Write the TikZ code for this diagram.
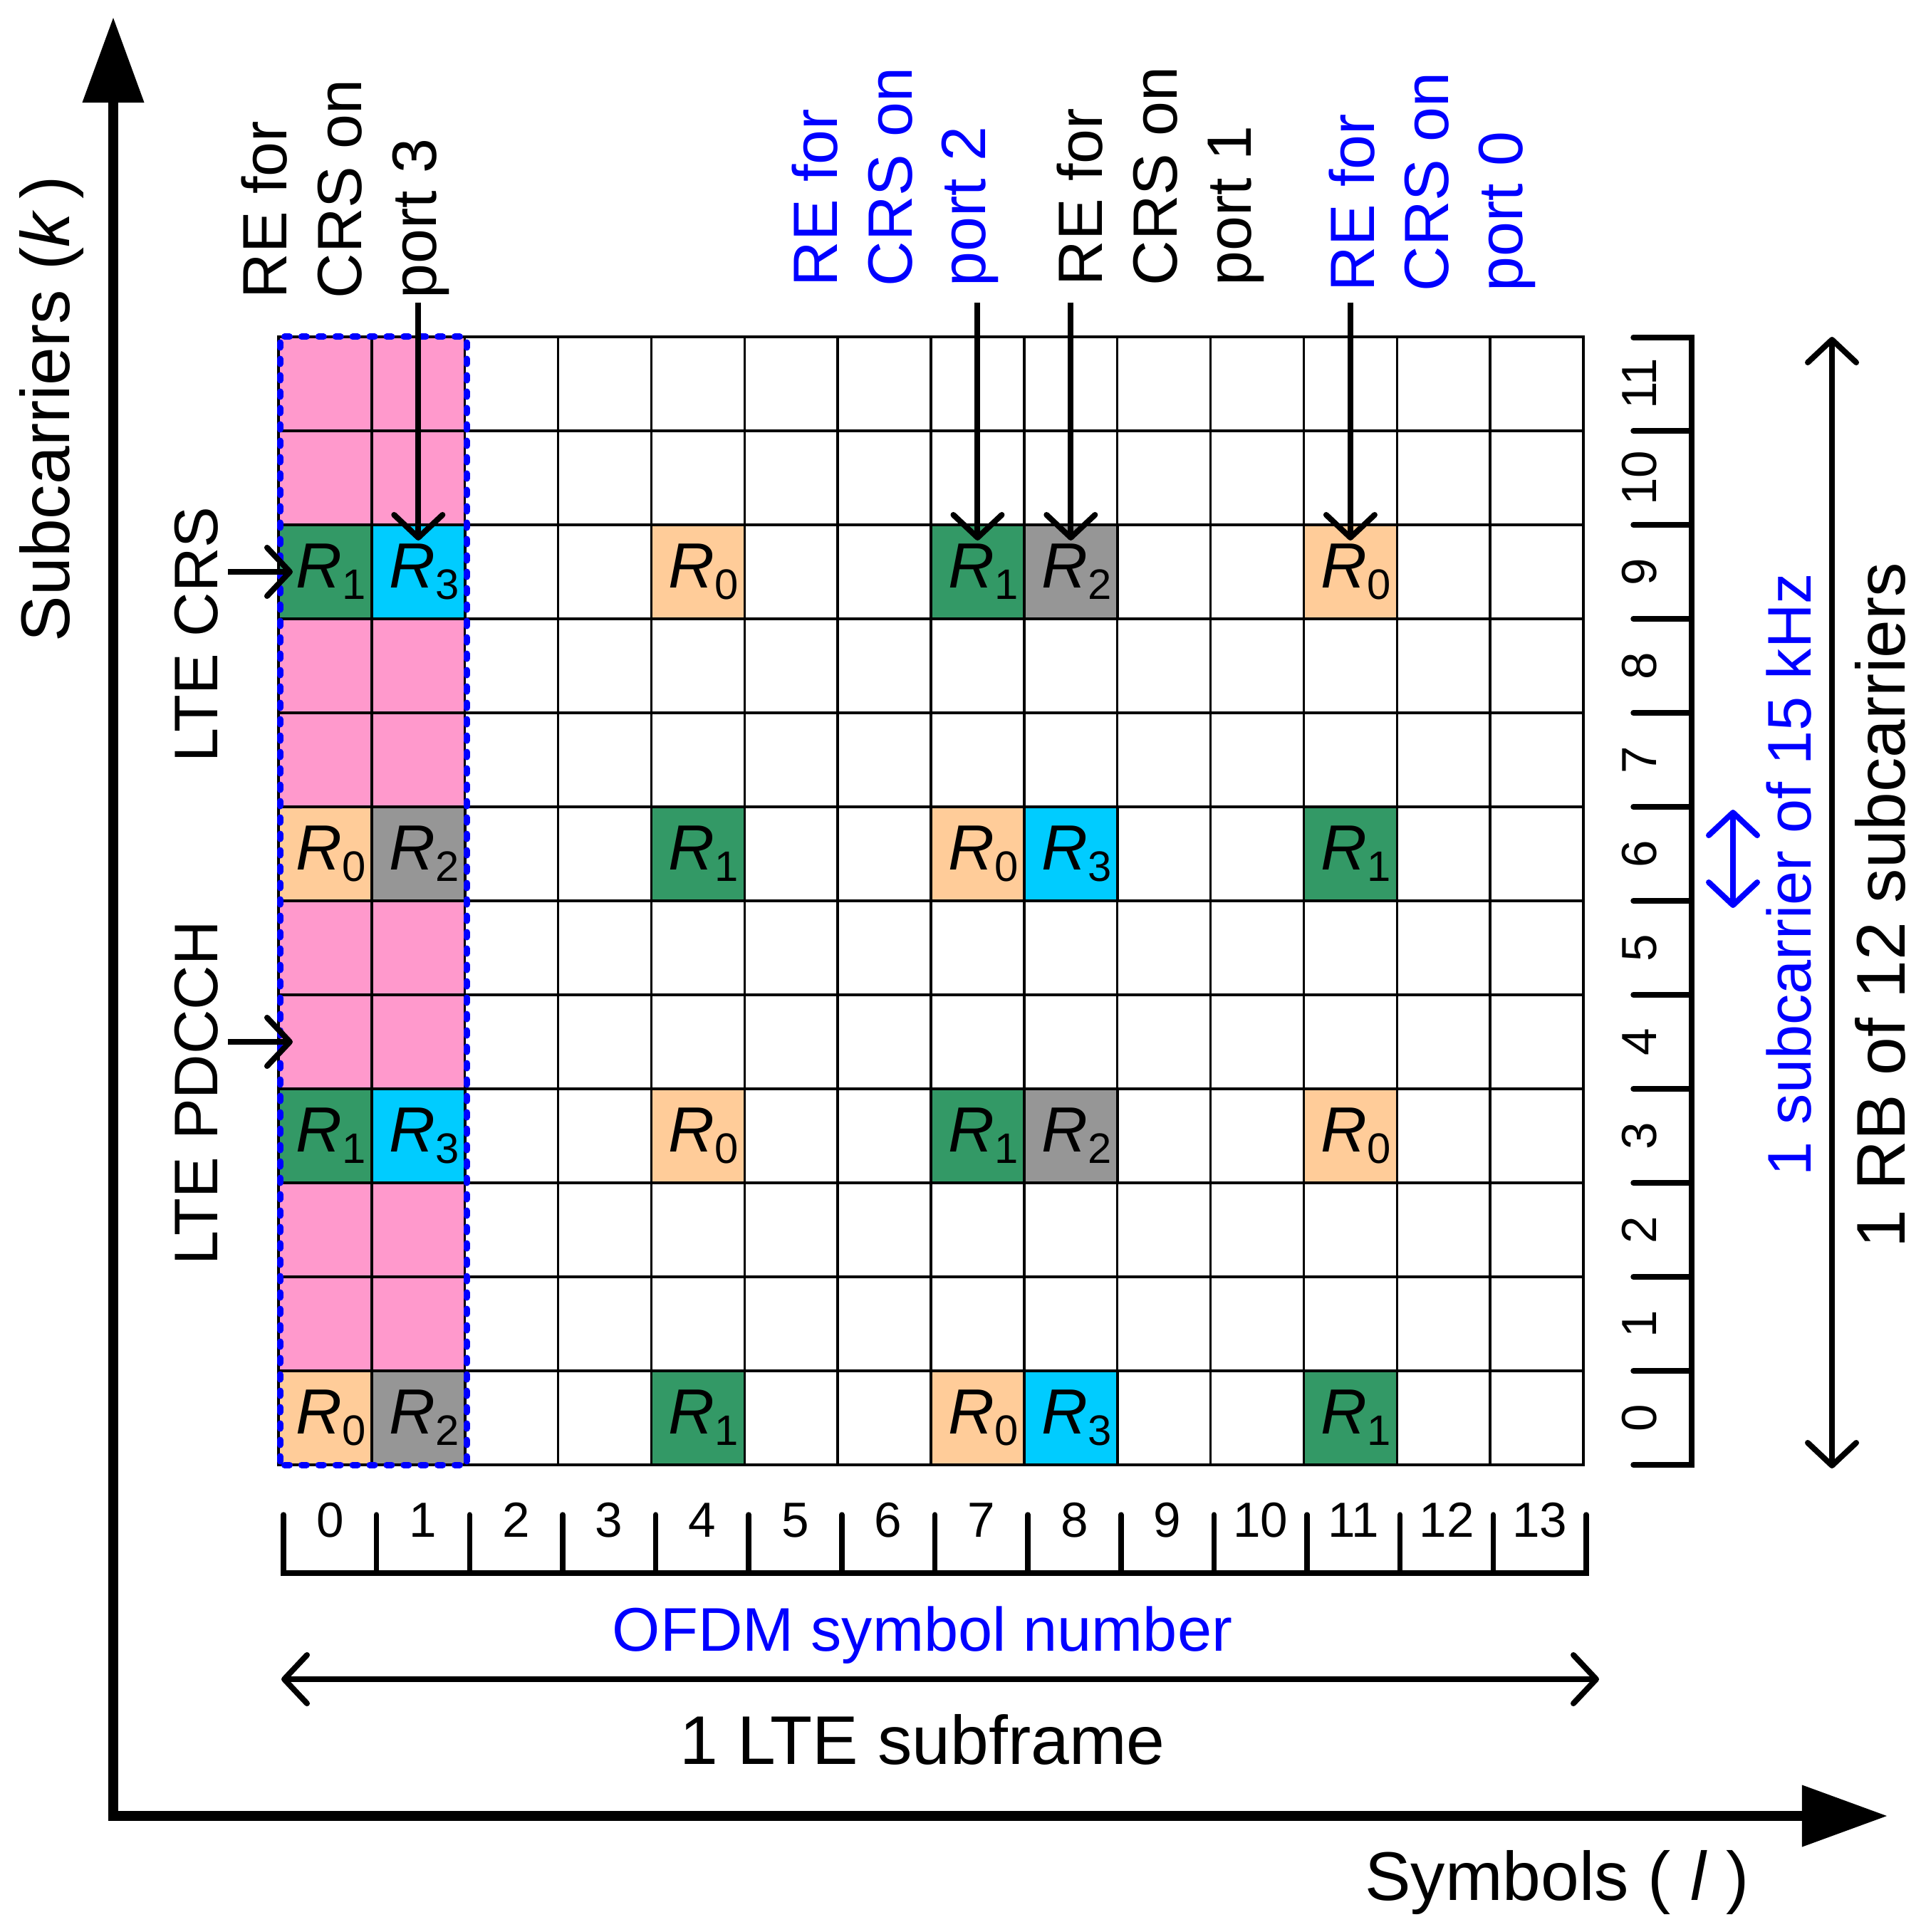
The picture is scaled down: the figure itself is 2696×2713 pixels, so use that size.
\documentclass[tikz,border=0pt]{standalone}
\usepackage{fontspec}
\setmainfont{Liberation Sans}
\usetikzlibrary{arrows.meta}
\definecolor{cpink}{HTML}{FF99CC}
\definecolor{cgreen}{HTML}{339966}
\definecolor{ccyan}{HTML}{00CCFF}
\definecolor{cgray}{HTML}{969696}
\definecolor{cpeach}{HTML}{FFCC99}
\newcommand\rlab[1]{\hspace*{0.16cm}\textit{R}\raisebox{-4.5pt}{\fontsize{17}{17}\selectfont #1}}
\newcommand\rcell[4]{\node[cell, fill=#3] (g-#1-#2) at ({391+130.86*(#1+0.5)},{2057-132*(#2+0.5)}) {\rlab{#4}};}
\begin{document}
\begin{tikzpicture}[x=0.01cm,y=-0.01cm,
  cell/.style={draw=black, line width=0.035cm, minimum width=1.3086cm, minimum height=1.32cm, inner sep=0, outer sep=0, font=\fontsize{25.5}{30}\selectfont},
  big/.style={font=\fontsize{27.5}{33}\selectfont, inner sep=0},
  mid/.style={font=\fontsize{24.6}{29}\selectfont, inner sep=0},
  lab/.style={font=\fontsize{25}{30}\selectfont, inner sep=0, rotate=90, anchor=base west},
  num/.style={font=\fontsize{19.7}{24}\selectfont, inner sep=0, anchor=base},
  axis/.style={line width=0.14cm, {Triangle[length=1.2cm,width=0.83cm]}-{Triangle[length=1.2cm,width=0.83cm]}},
  parr/.style={line width=0.08cm, -{Straight Barb[length=0.32cm,width=0.68cm,round]}},
  darr/.style={line width=0.08cm, {Straight Barb[length=0.32cm,width=0.68cm,round]}-{Straight Barb[length=0.32cm,width=0.68cm,round]}},
  ruler/.style={line width=0.075cm, line cap=round},
  bluedot/.style={draw=blue, line width=0.09cm, line cap=round}
]
\useasboundingbox[fill=white] (0,0) rectangle (2696,2713);

% base grid
\foreach \c in {0,...,13}{
  \foreach \r in {0,...,11}{
    \ifnum\c<2 \def\cf{cpink}\else\def\cf{white}\fi
    \node[cell, fill=\cf] (g-\c-\r) at ({391+130.86*(\c+0.5)},{2057-132*(\r+0.5)}) {};
  }
}
% reference signal cells
\foreach \r in {0,6}{
  \rcell{0}{\r}{cpeach}{0}
  \rcell{1}{\r}{cgray}{2}
  \rcell{4}{\r}{cgreen}{1}
  \rcell{7}{\r}{cpeach}{0}
  \rcell{8}{\r}{ccyan}{3}
  \rcell{11}{\r}{cgreen}{1}
}
\foreach \r in {3,9}{
  \rcell{0}{\r}{cgreen}{1}
  \rcell{1}{\r}{ccyan}{3}
  \rcell{4}{\r}{cpeach}{0}
  \rcell{7}{\r}{cgreen}{1}
  \rcell{8}{\r}{cgray}{2}
  \rcell{11}{\r}{cpeach}{0}
}
% PDCCH region outline (blue dashed)
\foreach \t in {0,...,68}{
  \draw[bluedot] (393,{473+11.5+23*\t-3.5}) -- (393,{473+11.5+23*\t+3.5});
  \draw[bluedot] (655,{473+11.5+23*\t-3.5}) -- (655,{473+11.5+23*\t+3.5});
}
\foreach \t in {0,...,10}{
  \draw[bluedot] ({391+12+23.9*\t-3.5},473) -- ({391+12+23.9*\t+3.5},473);
  \draw[bluedot] ({391+12+23.9*\t-3.5},2057) -- ({391+12+23.9*\t+3.5},2057);
}

% axes
\coordinate (ytip) at (159,24);
\coordinate (orig) at (159,2550);
\coordinate (xtip) at (2650,2550);
\draw[axis] (ytip) -- (orig) -- (xtip);
\node[big, rotate=90, anchor=base] (ylab) at (97,574) {Subcarriers (\textit{k}\,)};
\node[big, anchor=base] (xlab) at (2186,2668) {Symbols ( \textit{l} )};

% top labels
\node[lab] (a1) at (402,420) {RE for};
\node[lab] (a2) at (507,420) {CRS on};
\node[lab] (a3) at (612,420) {port 3};
\node[lab, text=blue] (b1) at (1175,403) {RE for};
\node[lab, text=blue] (b2) at (1280,403) {CRS on};
\node[lab, text=blue] (b3) at (1383,403) {port 2};
\node[lab] (c1) at (1547,402) {RE for};
\node[lab] (c2) at (1652,402) {CRS on};
\node[lab] (c3) at (1756,402) {port 1};
\node[lab, text=blue] (d1) at (1929,410) {RE for};
\node[lab, text=blue] (d2) at (2033,410) {CRS on};
\node[lab, text=blue] (d3) at (2137,410) {port 0};

% port arrows
\coordinate (s3) at ({391+130.86*1.5},425);
\coordinate (s2) at ({391+130.86*7.5},425);
\coordinate (s1) at ({391+130.86*8.5},425);
\coordinate (s0) at ({391+130.86*11.5},425);
\draw[parr, shorten >=-0.22cm] (s3) -- (g-1-9);
\draw[parr, shorten >=-0.22cm] (s2) -- (g-7-9);
\draw[parr, shorten >=-0.22cm] (s1) -- (g-8-9);
\draw[parr, shorten >=-0.22cm] (s0) -- (g-11-9);

% left labels
\node[mid, rotate=90, anchor=base] (crs) at (305,891) {LTE CRS};
\node[mid, rotate=90, anchor=base] (pdcch) at (305,1535) {LTE PDCCH};
\coordinate (crsA) at (320,{2057-132*9.5});
\coordinate (pdA) at (320,{2057-132*4.5});
\draw[parr, shorten >=-0.20cm] (crsA) -- (g-0-9);
\draw[parr, shorten >=-0.20cm] (pdA) -- (g-0-4);

% bottom ruler
\draw[ruler] (398,2127) -- (398,2209) -- (2227,2209) -- (2227,2127);
\foreach \i in {1,...,13}{
  \draw[ruler] ({398+130.64*\i},2127) -- ({398+130.64*\i},2209);
}
\foreach \i in {0,...,13}{
  \node[num] (bx\i) at ({398+130.64*(\i+0.5)},2158) {\i};
}
% right ruler
\draw[ruler] (2293,474) -- (2375,474) -- (2375,2057) -- (2293,2057);
\foreach \i in {1,...,11}{
  \draw[ruler] (2293,{2057-132*\i}) -- (2375,{2057-132*\i});
}
\foreach \i in {0,...,11}{
  \node[num, rotate=90] (ry\i) at (2325,{2057-132*(\i+0.5)}) {\i};
}

% bottom labels and subframe arrow
\node[mid, text=blue, anchor=base] (ofdm) at (1295,2318) {OFDM symbol number};
\coordinate (sfL) at (395,2358);
\coordinate (sfR) at (2245,2358);
\draw[darr] (sfL) -- (sfR);
\node[big, anchor=base] (sf) at (1295,2477) {1 LTE subframe};

% right labels and arrows
\coordinate (scT) at (2433,1137);
\coordinate (scB) at (2433,1275);
\draw[darr, blue] (scT) -- (scB);
\node[mid, text=blue, rotate=90, anchor=base] (sc) at (2542,1228) {1 subcarrier of 15 kHz};
\coordinate (rbT) at (2572,473);
\coordinate (rbB) at (2572,2062);
\draw[darr] (rbT) -- (rbB);
\node[big, rotate=90, anchor=base] (rb) at (2674,1271) {1 RB of 12 subcarriers};
\end{tikzpicture}
\end{document}
